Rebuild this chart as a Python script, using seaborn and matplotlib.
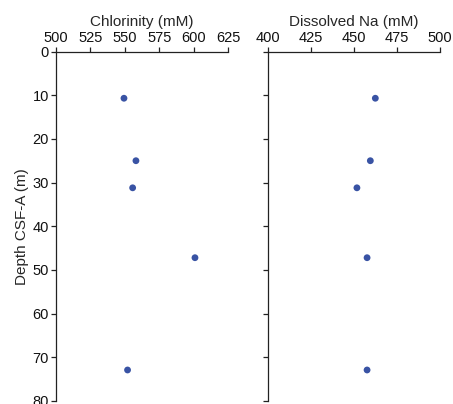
import matplotlib
matplotlib.use("Agg")
import matplotlib.pyplot as plt
import seaborn as sns
import pandas as pd

depth = [10.7, 25.0, 31.2, 47.2, 72.9]
chlorinity = [549.4, 558.1, 555.7, 601.0, 552.0]
sodium = [462.4, 459.5, 451.7, 457.6, 457.6]

sns.set_style("white")
plt.rcParams['font.family'] = ['Liberation Sans', 'DejaVu Sans']

df = pd.DataFrame({"depth": depth, "cl": chlorinity, "na": sodium})

fig = plt.figure(figsize=(4.53, 4.04), dpi=100)
W, H = 453, 404
top = 51.5
bot = 401.0
ax1 = fig.add_axes([56 / W, 1 - bot / H, 172 / W, (bot - top) / H])
ax2 = fig.add_axes([268 / W, 1 - bot / H, 172 / W, (bot - top) / H])

color = "#3953a4"
sns.scatterplot(data=df, x="cl", y="depth", ax=ax1, color=color, s=24,
                edgecolor="none", clip_on=False)
sns.scatterplot(data=df, x="na", y="depth", ax=ax2, color=color, s=24,
                edgecolor="none", clip_on=False)

for ax, xlim, xticks, label in [
    (ax1, (500, 625), [500, 525, 550, 575, 600, 625], "Chlorinity (mM)"),
    (ax2, (400, 500), [400, 425, 450, 475, 500], "Dissolved Na (mM)"),
]:
    ax.set_xlim(*xlim)
    ax.set_ylim(80, 0)
    ax.set_xticks(xticks)
    ax.set_yticks(range(0, 81, 10))
    ax.xaxis.set_ticks_position("top")
    ax.xaxis.set_label_position("top")
    ax.set_xlabel(label, fontsize=11, labelpad=3)
    for s in ["right", "bottom"]:
        ax.spines[s].set_visible(False)
    for s in ["left", "top"]:
        ax.spines[s].set_color("#222222")
        ax.spines[s].set_linewidth(0.9)
    ax.tick_params(axis="both", direction="out", length=3.5, width=0.9,
                   color="#222222", labelsize=10.5, pad=1.5, labelcolor="#111111")
    ax.tick_params(axis="y", left=True)
    ax.tick_params(axis="x", top=True)
    ax.set_facecolor("white")

ax1.set_ylabel("Depth CSF-A (m)", fontsize=11, labelpad=3)
ax2.set_ylabel("")
ax2.set_yticklabels([])

fig.savefig("out.png", dpi=100, facecolor="white")
